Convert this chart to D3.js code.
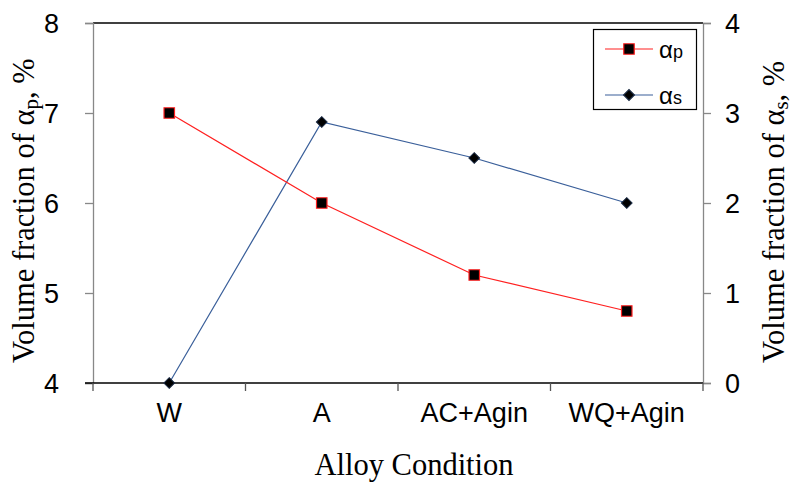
<!DOCTYPE html>
<html lang="en">
<head>
<meta charset="utf-8">
<title>Volume fraction vs alloy condition</title>
<script src="https://d3js.org/d3.v7.min.js"></script>
<style>
  body { margin: 0; background: #fff; }
  .tick text { font-family: "Liberation Sans", Arial, sans-serif; font-size: 27px; fill: #000; }
  .title { font-family: "Liberation Serif", "Times New Roman", serif; font-size: 30.5px; fill: #000; }
  .legend text { font-family: "Liberation Sans", Arial, sans-serif; font-size: 24px; }
</style>
</head>
<body>
<svg width="793" height="484"></svg>
<script>
// data
var conditions = ["W", "A", "AC+Agin", "WQ+Agin"];
var alphaP = [7, 6, 5.2, 4.8];     // left axis, %
var alphaS = [0, 2.9, 2.5, 2.0];   // right axis, %
var leftTicks = [4, 5, 6, 7, 8];
var rightTicks = [0, 1, 2, 3, 4];

(function() {
var svg = d3.select("svg");
var pl = 93, pr = 703, pt = 23, pb = 383;

var x = d3.scaleBand().domain(conditions).range([pl, pr]);
var yL = d3.scaleLinear().domain([4, 8]).range([pb, pt]);
var yR = d3.scaleLinear().domain([0, 4]).range([pb, pt]);
var cx = function(c) { return x(c) + x.bandwidth() / 2; };

// top border
svg.append("line").attr("x1", pl).attr("x2", pr).attr("y1", pt).attr("y2", pt)
  .attr("stroke", "#000").attr("stroke-width", 1.3);

// left axis
var gl = svg.append("g").attr("transform", "translate(" + pl + ",0)")
  .call(d3.axisLeft(yL).tickValues(leftTicks).tickSize(8).tickPadding(26).tickFormat(d3.format("d")));
gl.select(".domain").attr("stroke", "#888").attr("stroke-width", 1.3);
gl.selectAll(".tick line").attr("stroke", "#888").attr("stroke-width", 1.3);
gl.selectAll(".tick text").attr("dy", "0.36em");

// right axis
var gr = svg.append("g").attr("transform", "translate(" + pr + ",0)")
  .call(d3.axisRight(yR).tickValues(rightTicks).tickSize(8).tickPadding(14).tickFormat(d3.format("d")));
gr.select(".domain").attr("stroke", "#888").attr("stroke-width", 1.3);
gr.selectAll(".tick line").attr("stroke", "#888").attr("stroke-width", 1.3);
gr.selectAll(".tick text").attr("dy", "0.36em");

// bottom axis: ticks at band boundaries, labels at band centres
var gb = svg.append("g").attr("transform", "translate(0," + pb + ")");
gb.append("line").attr("x1", pl - 8).attr("x2", pr).attr("stroke", "#000").attr("stroke-width", 1.5);
var edges = conditions.map(function(c) { return x(c); }).concat([pr]);
gb.selectAll(".edge").data(edges).enter().append("line")
  .attr("x1", function(d) { return d; }).attr("x2", function(d) { return d; })
  .attr("y1", 0).attr("y2", 8).attr("stroke", "#555").attr("stroke-width", 1.3);
gb.selectAll(".xlab").data(conditions).enter().append("text")
  .attr("x", cx)
  .attr("y", 39)
  .attr("text-anchor", "middle")
  .style("font-family", "'Liberation Sans', Arial, sans-serif").style("font-size", "27px")
  .text(function(d) { return d; });

// axis titles
svg.append("text").attr("class", "title")
  .attr("x", 414).attr("y", 475).attr("text-anchor", "middle").text("Alloy Condition");

function yTitle(xpos, sub) {
  var t = svg.append("text").attr("class", "title")
    .attr("transform", "translate(" + xpos + ",363) rotate(-90)")
    .attr("text-anchor", "start");
  t.append("tspan").text("Volume fraction of \u03b1");
  t.append("tspan").attr("dy", 4).style("font-size", "21px").text(sub);
  t.append("tspan").attr("dy", -4).text(", %");
}
yTitle(34, "p");
yTitle(784, "s");

// series
var lineP = d3.line().x(function(d, i) { return cx(conditions[i]); }).y(function(d) { return yL(d); });
var lineS = d3.line().x(function(d, i) { return cx(conditions[i]); }).y(function(d) { return yR(d); });

svg.append("path").datum(alphaS).attr("d", lineS)
  .attr("fill", "none").attr("stroke", "#3a5f9a").attr("stroke-width", 1.2);
svg.append("path").datum(alphaP).attr("d", lineP)
  .attr("fill", "none").attr("stroke", "#ff2020").attr("stroke-width", 1.2);

var sq = d3.symbol().type(d3.symbolSquare).size(110);
var dm = d3.symbol().type(d3.symbolSquare).size(58);   // drawn rotated 45deg

svg.selectAll(".mp").data(alphaP).enter().append("path")
  .attr("d", sq)
  .attr("transform", function(d, i) { return "translate(" + cx(conditions[i]) + "," + yL(d) + ")"; })
  .attr("fill", "#000").attr("stroke", "#ff2020").attr("stroke-width", 1.2);

svg.selectAll(".ms").data(alphaS).enter().append("path")
  .attr("d", dm)
  .attr("transform", function(d, i) { return "translate(" + cx(conditions[i]) + "," + yR(d) + ") rotate(45)"; })
  .attr("fill", "#000").attr("stroke", "#1a2a44").attr("stroke-width", 1);

// legend
var lg = svg.append("g").attr("class", "legend");
lg.append("rect").attr("x", 593.5).attr("y", 29.5).attr("width", 103).attr("height", 80)
  .attr("fill", "#fff").attr("stroke", "#000").attr("stroke-width", 1.2);
var items = [
  { name: "p", y: 49, stroke: "#ff2020", sym: sq, ms: "#ff2020", rot: 0 },
  { name: "s", y: 95, stroke: "#3a5f9a", sym: dm, ms: "#1a2a44", rot: 45 }
];
items.forEach(function(it) {
  lg.append("line").attr("x1", 605).attr("x2", 653).attr("y1", it.y).attr("y2", it.y)
    .attr("stroke", it.stroke).attr("stroke-width", 1.2);
  lg.append("path").attr("d", it.sym).attr("transform", "translate(629," + it.y + ") rotate(" + it.rot + ")")
    .attr("fill", "#000").attr("stroke", it.ms).attr("stroke-width", 1.2);
  var t = lg.append("text").attr("x", 659).attr("y", it.y + 9);
  t.append("tspan").text("\u03b1");
  t.append("tspan").style("font-size", "18px").text(it.name);
});
})();
</script>
</body>
</html>
